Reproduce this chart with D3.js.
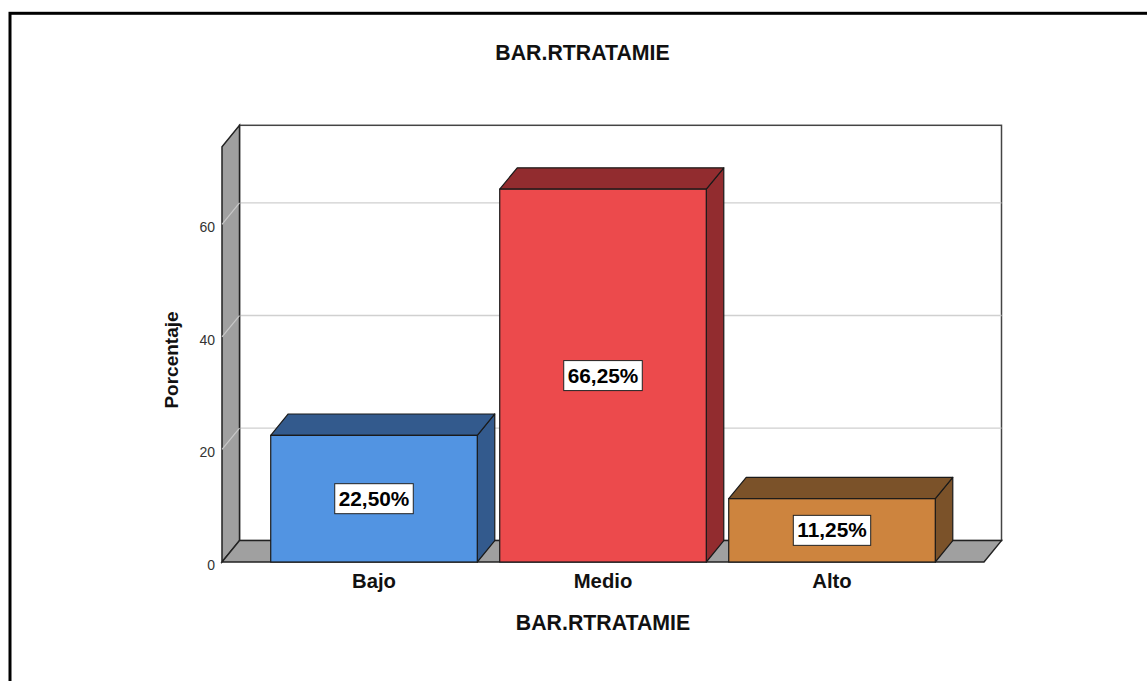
<!DOCTYPE html>
<html><head><meta charset="utf-8">
<script src="https://cdn.jsdelivr.net/npm/d3@7"></script>
<style>body{margin:0;background:#fff}svg{display:block}text{font-family:Arial,"Liberation Sans",sans-serif}</style>
</head><body>
<svg id="c" width="1147" height="681"></svg>
<script>
const categories = ["Bajo", "Medio", "Alto"];
const values = [22.5, 66.25, 11.25];
const valueLabels = ["22,50%", "66,25%", "11,25%"];
const frontColors = ["#5294e2", "#ec4a4c", "#cd843e"];
const sideColors = ["#335a8d", "#922c2f", "#7b5229"];
const yTicks = [0, 20, 40, 60];
const chartTitle = "BAR.RTRATAMIE";
const xTitle = "BAR.RTRATAMIE";
const yTitle = "Porcentaje";

const svg = d3.select("#c");
const DX = 17.5, DY = -21.4;
const y = d3.scaleLinear().domain([0, 73.8]).range([562, 146.7]);
const x = d3.scaleBand().domain(categories).range([259.5, 946.5]).paddingInner(0.098).paddingOuter(0.049);
const floorL = 222, floorR = 984;

// outer frame
svg.append("rect").attr("x", 10).attr("y", 13.3).attr("width", 1300).attr("height", 1000)
  .attr("fill", "none").attr("stroke", "#000").attr("stroke-width", 3);

// title
svg.append("text").attr("x", 582.5).attr("y", 60).attr("text-anchor", "middle")
  .attr("font-size", 21.3).attr("font-weight", "bold").attr("fill", "#111").text(chartTitle);

const line = d3.line();
const y0 = y(0), yTop = y.range()[1];

// back wall
svg.append("rect").attr("x", floorL + DX).attr("y", yTop + DY)
  .attr("width", floorR - floorL).attr("height", y0 - yTop)
  .attr("fill", "#fff").attr("stroke", "#444").attr("stroke-width", 1.5);

// gridlines
yTicks.filter(v => v > 0).forEach(v => {
  const yy = y(v);
  svg.append("path").attr("d", line([[floorL, yy], [floorL + DX, yy + DY], [floorR + DX, yy + DY]]))
    .attr("fill", "none").attr("stroke", "#d0d0d0").attr("stroke-width", 1.3);
});

// left wall
svg.append("path").attr("d", line([[floorL, y0], [floorL, yTop], [floorL + DX, yTop + DY], [floorL + DX, y0 + DY]]) + "Z")
  .attr("fill", "#a0a0a0").attr("stroke", "#222").attr("stroke-width", 1.5);
yTicks.filter(v => v > 0).forEach(v => {
  const yy = y(v);
  svg.append("path").attr("d", line([[floorL, yy], [floorL + DX, yy + DY]]))
    .attr("stroke", "#c8c8c8").attr("stroke-width", 1.2);
});

// floor
svg.append("path").attr("d", line([[floorL, y0], [floorR, y0], [floorR + DX, y0 + DY], [floorL + DX, y0 + DY]]) + "Z")
  .attr("fill", "#a0a0a0").attr("stroke", "#222").attr("stroke-width", 1.5);

// y tick labels
yTicks.forEach(v => {
  svg.append("text").attr("x", 215).attr("y", y(v) + 8).attr("text-anchor", "end")
    .attr("font-size", 14).attr("fill", "#333").text(v);
});

// bars
categories.forEach((c, i) => {
  const x0 = x(c), x1 = x(c) + x.bandwidth();
  const yt = y(values[i]);
  const g = svg.append("g");
  g.append("path").attr("d", line([[x1, y0], [x1, yt], [x1 + DX, yt + DY], [x1 + DX, y0 + DY]]) + "Z")
    .attr("fill", sideColors[i]).attr("stroke", "#1a1a1a").attr("stroke-width", 1.2).attr("stroke-linejoin", "round");
  g.append("path").attr("d", line([[x0, yt], [x0 + DX, yt + DY], [x1 + DX, yt + DY], [x1, yt]]) + "Z")
    .attr("fill", sideColors[i]).attr("stroke", "#1a1a1a").attr("stroke-width", 1.2).attr("stroke-linejoin", "round");
  g.append("rect").attr("x", x0).attr("y", yt).attr("width", x1 - x0).attr("height", y0 - yt)
    .attr("fill", frontColors[i]).attr("stroke", "#1a1a1a").attr("stroke-width", 1.2);
  const cx = (x0 + x1) / 2, cy = (yt + y0) / 2;
  const t = g.append("text").attr("x", cx).attr("y", cy + 7).attr("text-anchor", "middle")
    .attr("font-size", 20.8).attr("font-weight", "bold").attr("fill", "#000").text(valueLabels[i]);
  const bb = t.node().getBBox();
  g.insert("rect", "text").attr("x", cx - bb.width / 2 - 4).attr("y", cy - 15).attr("width", bb.width + 8).attr("height", 30)
    .attr("fill", "#fff").attr("stroke", "#222").attr("stroke-width", 1);
  svg.append("text").attr("x", cx).attr("y", 588).attr("text-anchor", "middle")
    .attr("font-size", 20.3).attr("font-weight", "bold").attr("fill", "#111").text(c);
});

// axis titles
svg.append("text").attr("x", 603).attr("y", 630).attr("text-anchor", "middle")
  .attr("font-size", 21.3).attr("font-weight", "bold").attr("fill", "#111").text(xTitle);
svg.append("text").attr("transform", "translate(178,360) rotate(-90)").attr("text-anchor", "middle")
  .attr("font-size", 19).attr("font-weight", "bold").attr("fill", "#111").text(yTitle);
</script>
</body></html>
